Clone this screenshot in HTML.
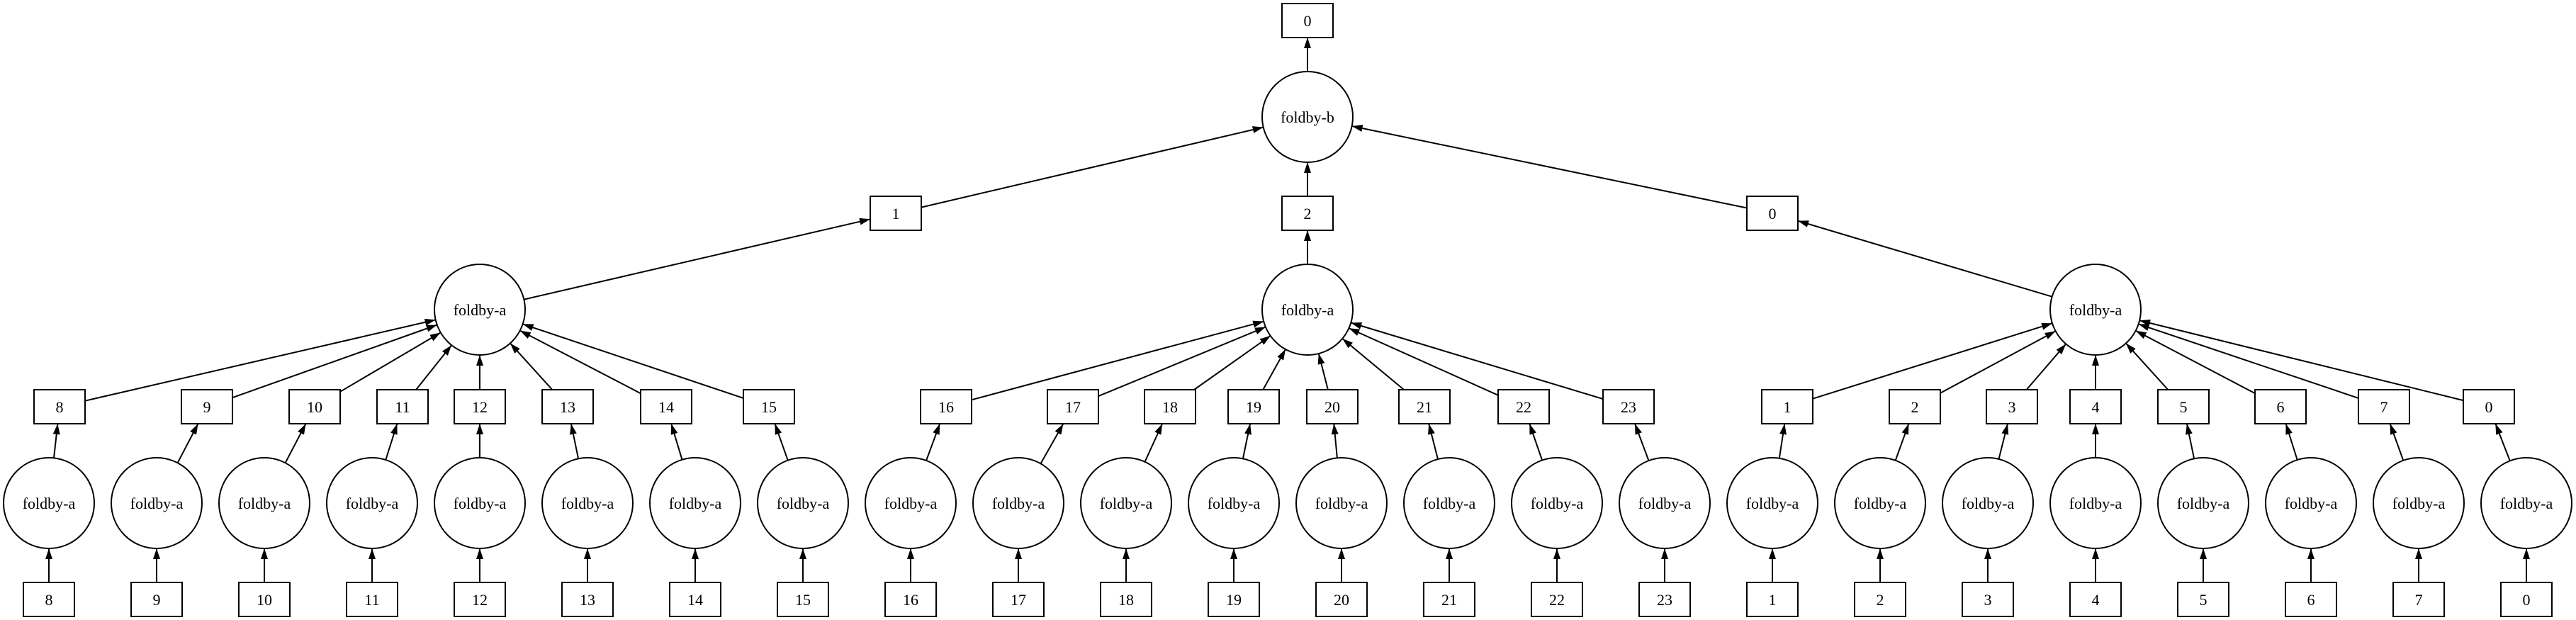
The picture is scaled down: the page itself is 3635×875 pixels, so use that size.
<!DOCTYPE html>
<html><head><meta charset="utf-8"><style>
html,body{margin:0;padding:0;background:#fff;}
svg{display:block;}
text{font-family:"Liberation Serif",serif;font-size:22px;text-anchor:middle;fill:#000;}
</style></head><body>
<svg width="3635" height="875" viewBox="0 0 3635 875" xmlns="http://www.w3.org/2000/svg">
<defs><marker id="a" markerUnits="userSpaceOnUse" markerWidth="16" markerHeight="11" refX="15" refY="5" orient="auto"><path d="M0,0 L15,5 L0,10 z" fill="#000"/></marker></defs>
<g stroke="#000" stroke-width="2" fill="none" marker-end="url(#a)">
<line x1="1845" y1="101" x2="1845" y2="53"/>
<line x1="1300" y1="292.6" x2="1782.7" y2="179.6"/>
<line x1="1845" y1="277" x2="1845" y2="229"/>
<line x1="2465" y1="293.5" x2="1907.7" y2="178"/>
<line x1="739.4" y1="422.6" x2="1228" y2="309.3"/>
<line x1="1845" y1="373" x2="1845" y2="325"/>
<line x1="2895.7" y1="418.7" x2="2537" y2="311.7"/>
<line x1="120" y1="565.7" x2="614.6" y2="451.4"/>
<line x1="328" y1="561.2" x2="616.7" y2="458.5"/>
<line x1="480" y1="552.8" x2="621.8" y2="469.4"/>
<line x1="587.1" y1="550" x2="637.2" y2="487.1"/>
<line x1="677" y1="550" x2="677" y2="501"/>
<line x1="779.3" y1="550" x2="719.9" y2="484.4"/>
<line x1="904" y1="555.2" x2="733.8" y2="466.6"/>
<line x1="1049" y1="561.9" x2="737.7" y2="457.4"/>
<line x1="1371" y1="564.3" x2="1783.2" y2="453.6"/>
<line x1="1550" y1="559.1" x2="1785.9" y2="461.5"/>
<line x1="1685" y1="550" x2="1792.7" y2="473.9"/>
<line x1="1782.3" y1="550" x2="1814" y2="492.9"/>
<line x1="1873.9" y1="550" x2="1860.8" y2="499"/>
<line x1="1981.1" y1="550" x2="1894.2" y2="477.9"/>
<line x1="2114" y1="557.8" x2="1903.4" y2="463.2"/>
<line x1="2262" y1="563.1" x2="1906.3" y2="455.5"/>
<line x1="2558" y1="562.7" x2="2896" y2="456.2"/>
<line x1="2738" y1="554.7" x2="2900.6" y2="467.3"/>
<line x1="2859.6" y1="550" x2="2915.2" y2="485.5"/>
<line x1="2957" y1="550" x2="2957" y2="501"/>
<line x1="3059.3" y1="550" x2="2999.9" y2="484.4"/>
<line x1="3182" y1="555.1" x2="3013.7" y2="466.7"/>
<line x1="3328" y1="561.9" x2="3017.7" y2="457.4"/>
<line x1="3476" y1="565.1" x2="3019.1" y2="452.3"/>
<line x1="76" y1="646.4" x2="81.4" y2="598"/>
<line x1="250.6" y1="653.3" x2="279.5" y2="598"/>
<line x1="402.6" y1="653.3" x2="431.5" y2="598"/>
<line x1="544.3" y1="649" x2="560.4" y2="598"/>
<line x1="677" y1="646" x2="677" y2="598"/>
<line x1="816.1" y1="647.3" x2="805.9" y2="598"/>
<line x1="962.5" y1="648.7" x2="947.2" y2="598"/>
<line x1="1111.7" y1="649.6" x2="1093.5" y2="598"/>
<line x1="1307.1" y1="649.9" x2="1326.2" y2="598"/>
<line x1="1468.5" y1="654.3" x2="1500.4" y2="598"/>
<line x1="1615.5" y1="651.8" x2="1640.1" y2="598"/>
<line x1="1753.9" y1="647.3" x2="1764.1" y2="598"/>
<line x1="1886.9" y1="646.3" x2="1882.3" y2="598"/>
<line x1="2029" y1="648" x2="2016.2" y2="598"/>
<line x1="2176.1" y1="649.5" x2="2158.3" y2="598"/>
<line x1="2326.5" y1="650.1" x2="2307" y2="598"/>
<line x1="2510.8" y1="646.7" x2="2518.3" y2="598"/>
<line x1="2674.7" y1="649.8" x2="2693.4" y2="598"/>
<line x1="2820.5" y1="647.9" x2="2833" y2="598"/>
<line x1="2957" y1="646" x2="2957" y2="598"/>
<line x1="3096.1" y1="647.3" x2="3085.9" y2="598"/>
<line x1="3241.7" y1="649" x2="3225.6" y2="598"/>
<line x1="3391.3" y1="649.8" x2="3372.6" y2="598"/>
<line x1="3541.8" y1="650.4" x2="3521.4" y2="598"/>
<line x1="69" y1="822" x2="69" y2="774"/>
<line x1="221" y1="822" x2="221" y2="774"/>
<line x1="373" y1="822" x2="373" y2="774"/>
<line x1="525" y1="822" x2="525" y2="774"/>
<line x1="677" y1="822" x2="677" y2="774"/>
<line x1="829" y1="822" x2="829" y2="774"/>
<line x1="981" y1="822" x2="981" y2="774"/>
<line x1="1133" y1="822" x2="1133" y2="774"/>
<line x1="1285" y1="822" x2="1285" y2="774"/>
<line x1="1437" y1="822" x2="1437" y2="774"/>
<line x1="1589" y1="822" x2="1589" y2="774"/>
<line x1="1741" y1="822" x2="1741" y2="774"/>
<line x1="1893" y1="822" x2="1893" y2="774"/>
<line x1="2045" y1="822" x2="2045" y2="774"/>
<line x1="2197" y1="822" x2="2197" y2="774"/>
<line x1="2349" y1="822" x2="2349" y2="774"/>
<line x1="2501" y1="822" x2="2501" y2="774"/>
<line x1="2653" y1="822" x2="2653" y2="774"/>
<line x1="2805" y1="822" x2="2805" y2="774"/>
<line x1="2957" y1="822" x2="2957" y2="774"/>
<line x1="3109" y1="822" x2="3109" y2="774"/>
<line x1="3261" y1="822" x2="3261" y2="774"/>
<line x1="3413" y1="822" x2="3413" y2="774"/>
<line x1="3565" y1="822" x2="3565" y2="774"/>
</g>
<g stroke="#000" stroke-width="2" fill="#fff">
<rect x="1809" y="5" width="72" height="48"/>
<circle cx="1845" cy="165" r="64"/>
<rect x="1228" y="277" width="72" height="48"/>
<rect x="1809" y="277" width="72" height="48"/>
<rect x="2465" y="277" width="72" height="48"/>
<circle cx="677" cy="437" r="64"/>
<circle cx="1845" cy="437" r="64"/>
<circle cx="2957" cy="437" r="64"/>
<rect x="48" y="550" width="72" height="48"/>
<rect x="256" y="550" width="72" height="48"/>
<rect x="408" y="550" width="72" height="48"/>
<rect x="532" y="550" width="72" height="48"/>
<rect x="641" y="550" width="72" height="48"/>
<rect x="765" y="550" width="72" height="48"/>
<rect x="904" y="550" width="72" height="48"/>
<rect x="1049" y="550" width="72" height="48"/>
<rect x="1299" y="550" width="72" height="48"/>
<rect x="1478" y="550" width="72" height="48"/>
<rect x="1615" y="550" width="72" height="48"/>
<rect x="1733" y="550" width="72" height="48"/>
<rect x="1844" y="550" width="72" height="48"/>
<rect x="1974" y="550" width="72" height="48"/>
<rect x="2114" y="550" width="72" height="48"/>
<rect x="2262" y="550" width="72" height="48"/>
<rect x="2486" y="550" width="72" height="48"/>
<rect x="2666" y="550" width="72" height="48"/>
<rect x="2803" y="550" width="72" height="48"/>
<rect x="2921" y="550" width="72" height="48"/>
<rect x="3045" y="550" width="72" height="48"/>
<rect x="3182" y="550" width="72" height="48"/>
<rect x="3328" y="550" width="72" height="48"/>
<rect x="3476" y="550" width="72" height="48"/>
<circle cx="69" cy="710" r="64"/><circle cx="221" cy="710" r="64"/><circle cx="373" cy="710" r="64"/><circle cx="525" cy="710" r="64"/>
<circle cx="677" cy="710" r="64"/><circle cx="829" cy="710" r="64"/><circle cx="981" cy="710" r="64"/><circle cx="1133" cy="710" r="64"/>
<circle cx="1285" cy="710" r="64"/><circle cx="1437" cy="710" r="64"/><circle cx="1589" cy="710" r="64"/><circle cx="1741" cy="710" r="64"/>
<circle cx="1893" cy="710" r="64"/><circle cx="2045" cy="710" r="64"/><circle cx="2197" cy="710" r="64"/><circle cx="2349" cy="710" r="64"/>
<circle cx="2501" cy="710" r="64"/><circle cx="2653" cy="710" r="64"/><circle cx="2805" cy="710" r="64"/><circle cx="2957" cy="710" r="64"/>
<circle cx="3109" cy="710" r="64"/><circle cx="3261" cy="710" r="64"/><circle cx="3413" cy="710" r="64"/><circle cx="3565" cy="710" r="64"/>
<rect x="33" y="822" width="72" height="48"/><rect x="185" y="822" width="72" height="48"/><rect x="337" y="822" width="72" height="48"/><rect x="489" y="822" width="72" height="48"/>
<rect x="641" y="822" width="72" height="48"/><rect x="793" y="822" width="72" height="48"/><rect x="945" y="822" width="72" height="48"/><rect x="1097" y="822" width="72" height="48"/>
<rect x="1249" y="822" width="72" height="48"/><rect x="1401" y="822" width="72" height="48"/><rect x="1553" y="822" width="72" height="48"/><rect x="1705" y="822" width="72" height="48"/>
<rect x="1857" y="822" width="72" height="48"/><rect x="2009" y="822" width="72" height="48"/><rect x="2161" y="822" width="72" height="48"/><rect x="2313" y="822" width="72" height="48"/>
<rect x="2465" y="822" width="72" height="48"/><rect x="2617" y="822" width="72" height="48"/><rect x="2769" y="822" width="72" height="48"/><rect x="2921" y="822" width="72" height="48"/>
<rect x="3073" y="822" width="72" height="48"/><rect x="3225" y="822" width="72" height="48"/><rect x="3377" y="822" width="72" height="48"/><rect x="3529" y="822" width="72" height="48"/>
</g>
<g>
<text x="1845" y="37">0</text>
<text x="1845" y="173">foldby-b</text>
<text x="1264" y="309">1</text><text x="1845" y="309">2</text><text x="2501" y="309">0</text>
<text x="677" y="445">foldby-a</text><text x="1845" y="445">foldby-a</text><text x="2957" y="445">foldby-a</text>
<text x="84" y="582">8</text><text x="292" y="582">9</text><text x="444" y="582">10</text><text x="568" y="582">11</text>
<text x="677" y="582">12</text><text x="801" y="582">13</text><text x="940" y="582">14</text><text x="1085" y="582">15</text>
<text x="1335" y="582">16</text><text x="1514" y="582">17</text><text x="1651" y="582">18</text><text x="1769" y="582">19</text>
<text x="1880" y="582">20</text><text x="2010" y="582">21</text><text x="2150" y="582">22</text><text x="2298" y="582">23</text>
<text x="2522" y="582">1</text><text x="2702" y="582">2</text><text x="2839" y="582">3</text><text x="2957" y="582">4</text>
<text x="3081" y="582">5</text><text x="3218" y="582">6</text><text x="3364" y="582">7</text><text x="3512" y="582">0</text>
<text x="69" y="718">foldby-a</text><text x="221" y="718">foldby-a</text><text x="373" y="718">foldby-a</text><text x="525" y="718">foldby-a</text>
<text x="677" y="718">foldby-a</text><text x="829" y="718">foldby-a</text><text x="981" y="718">foldby-a</text><text x="1133" y="718">foldby-a</text>
<text x="1285" y="718">foldby-a</text><text x="1437" y="718">foldby-a</text><text x="1589" y="718">foldby-a</text><text x="1741" y="718">foldby-a</text>
<text x="1893" y="718">foldby-a</text><text x="2045" y="718">foldby-a</text><text x="2197" y="718">foldby-a</text><text x="2349" y="718">foldby-a</text>
<text x="2501" y="718">foldby-a</text><text x="2653" y="718">foldby-a</text><text x="2805" y="718">foldby-a</text><text x="2957" y="718">foldby-a</text>
<text x="3109" y="718">foldby-a</text><text x="3261" y="718">foldby-a</text><text x="3413" y="718">foldby-a</text><text x="3565" y="718">foldby-a</text>
<text x="69" y="854">8</text><text x="221" y="854">9</text><text x="373" y="854">10</text><text x="525" y="854">11</text>
<text x="677" y="854">12</text><text x="829" y="854">13</text><text x="981" y="854">14</text><text x="1133" y="854">15</text>
<text x="1285" y="854">16</text><text x="1437" y="854">17</text><text x="1589" y="854">18</text><text x="1741" y="854">19</text>
<text x="1893" y="854">20</text><text x="2045" y="854">21</text><text x="2197" y="854">22</text><text x="2349" y="854">23</text>
<text x="2501" y="854">1</text><text x="2653" y="854">2</text><text x="2805" y="854">3</text><text x="2957" y="854">4</text>
<text x="3109" y="854">5</text><text x="3261" y="854">6</text><text x="3413" y="854">7</text><text x="3565" y="854">0</text>
</g>
</svg>
</body></html>
